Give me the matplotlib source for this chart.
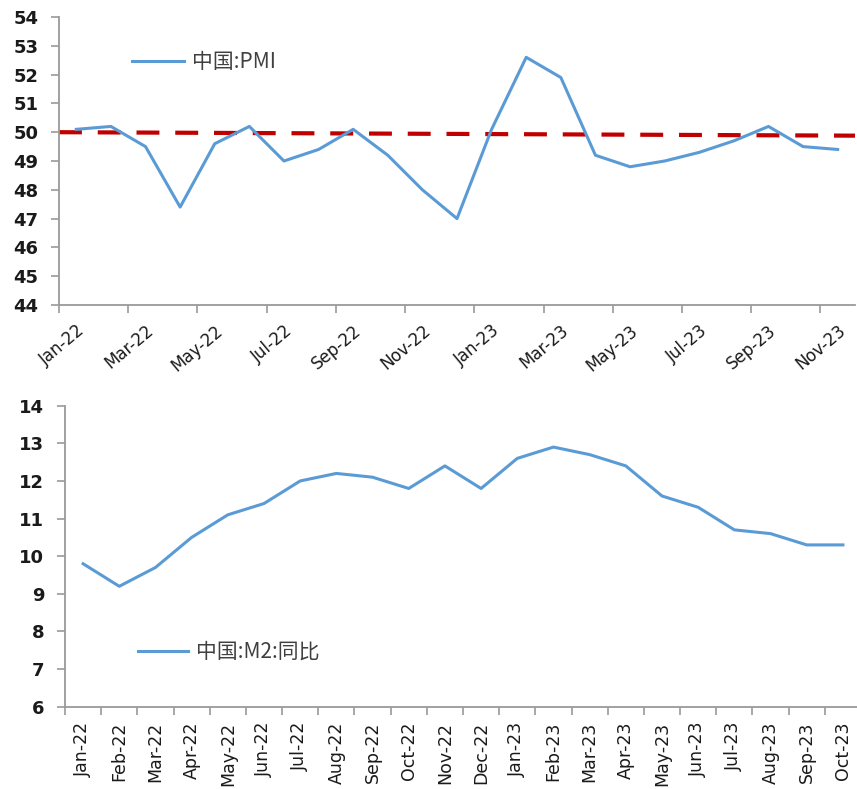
import matplotlib
matplotlib.use("Agg")
import matplotlib.pyplot as plt
from matplotlib.ticker import FixedLocator, NullFormatter

plt.rcParams['font.family'] = ['Noto Sans CJK SC', 'DejaVu Sans']

# ---------------- data ----------------
pmi_months = ["Jan-22", "Feb-22", "Mar-22", "Apr-22", "May-22", "Jun-22", "Jul-22", "Aug-22",
              "Sep-22", "Oct-22", "Nov-22", "Dec-22", "Jan-23", "Feb-23", "Mar-23", "Apr-23",
              "May-23", "Jun-23", "Jul-23", "Aug-23", "Sep-23", "Oct-23", "Nov-23"]
pmi_values = [50.1, 50.2, 49.5, 47.4, 49.6, 50.2, 49.0, 49.4, 50.1, 49.2, 48.0, 47.0,
              50.1, 52.6, 51.9, 49.2, 48.8, 49.0, 49.3, 49.7, 50.2, 49.5, 49.4]
pmi_threshold = [50.0, 49.88]   # dashed reference line, left end / right end
pmi_label = "中国:PMI"

m2_months = ["Jan-22", "Feb-22", "Mar-22", "Apr-22", "May-22", "Jun-22", "Jul-22", "Aug-22",
             "Sep-22", "Oct-22", "Nov-22", "Dec-22", "Jan-23", "Feb-23", "Mar-23", "Apr-23",
             "May-23", "Jun-23", "Jul-23", "Aug-23", "Sep-23", "Oct-23"]
m2_values = [9.8, 9.2, 9.7, 10.5, 11.1, 11.4, 12.0, 12.2, 12.1, 11.8, 12.4, 11.8,
             12.6, 12.9, 12.7, 12.4, 11.6, 11.3, 10.7, 10.6, 10.3, 10.3]
m2_label = "中国:M2:同比"

# ---------------- figure ----------------
W, H = 857, 789
fig = plt.figure(figsize=(W / 100, H / 100), dpi=100)

line_color = "#5B9BD5"
spine_color = "#9A9A9A"
tick_text = "#1A1A1A"


def px_axes(left, top, right, bottom):
    return fig.add_axes([left / W, 1 - bottom / H, (right - left) / W, (bottom - top) / H])


def style(ax):
    for s in ("top", "right"):
        ax.spines[s].set_visible(False)
    for s in ("left", "bottom"):
        ax.spines[s].set_color(spine_color)
        ax.spines[s].set_linewidth(1.3)
    ax.tick_params(axis="y", direction="out", length=6, width=1.2, color=spine_color,
                   labelsize=13, labelcolor=tick_text, pad=9)
    ax.tick_params(axis="x", which="minor", direction="out", length=6, width=1.2, color=spine_color)
    ax.tick_params(axis="x", which="major", length=0, labelcolor=tick_text)
    for lbl in ax.get_yticklabels():
        lbl.set_family("DejaVu Sans")
        lbl.set_fontweight("bold")


# ---- top: PMI ----
ax1 = px_axes(59, 17, 855, 305)
n1 = len(pmi_months)
x1 = list(range(n1))
ax1.plot(x1, pmi_values, color=line_color, lw=2.2, label=pmi_label, zorder=3)
ax1.plot([-0.5, n1 - 0.5], pmi_threshold, color="#C00000", lw=3.0, dashes=(5.5, 3.8), zorder=2)
ax1.set_xlim(-0.5, n1 - 0.5)
ax1.set_ylim(44, 54)
ax1.set_yticks(range(44, 55))
ax1.set_xticks(x1[::2])
ax1.set_xticklabels(pmi_months[::2], rotation=40, ha="right", rotation_mode="anchor",
                    fontsize=12, family="DejaVu Sans", color="#333333")
ax1.xaxis.set_minor_locator(FixedLocator([i - 0.5 for i in range(0, n1, 2)]))
ax1.xaxis.set_minor_formatter(NullFormatter())
style(ax1)
ax1.tick_params(axis="x", which="major", pad=12)
leg1 = ax1.legend(loc="center left", bbox_to_anchor=((132 - 59) / 796, (305 - 62) / 288),
                  frameon=False, fontsize=15, handlelength=2.5, handletextpad=0.4,
                  borderpad=0, borderaxespad=0)
for t in leg1.get_texts():
    t.set_color("#404040")

# ---- bottom: M2 ----
ax2 = px_axes(65, 405.7, 861, 706.7)
n2 = len(m2_months)
x2 = list(range(n2))
ax2.plot(x2, m2_values, color=line_color, lw=2.2, label=m2_label, zorder=3)
ax2.set_xlim(-0.5, n2 - 0.5)
ax2.set_ylim(6, 14)
ax2.set_yticks(range(6, 15))
ax2.set_xticks(x2)
ax2.set_xticklabels(m2_months, rotation=90, ha="center", va="top", fontsize=12.5,
                    family="DejaVu Sans", color="#333333")
ax2.xaxis.set_minor_locator(FixedLocator([i - 0.5 for i in range(n2 + 1)]))
ax2.xaxis.set_minor_formatter(NullFormatter())
style(ax2)
ax2.tick_params(axis="x", which="major", pad=11)
leg2 = ax2.legend(loc="center left", bbox_to_anchor=((138 - 65) / 796, (706.7 - 652) / 301),
                  frameon=False, fontsize=15, handlelength=2.4, handletextpad=0.4,
                  borderpad=0, borderaxespad=0)
for t in leg2.get_texts():
    t.set_color("#404040")

fig.savefig("out.png", dpi=100)
